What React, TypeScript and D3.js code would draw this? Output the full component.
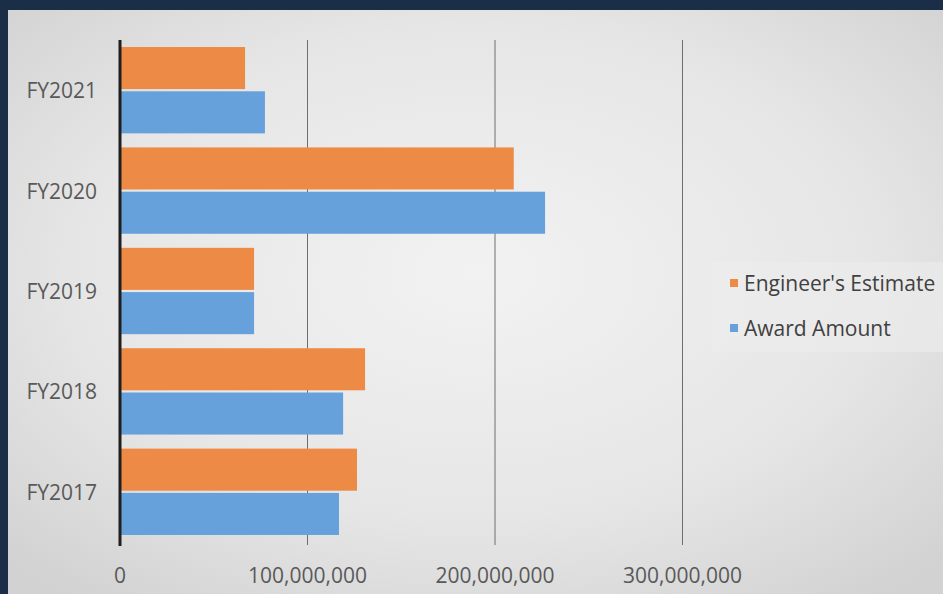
import React from "react";
import * as d3 from "d3";

const categories = ["FY2021", "FY2020", "FY2019", "FY2018", "FY2017"];
const seriesNames = ["Engineer's Estimate", "Award Amount"];
const engineersEstimate = [66700000, 210000000, 71500000, 130700000, 126400000];
const awardAmount = [77300000, 226700000, 71500000, 119000000, 116800000];
const xTicks = [0, 100000000, 200000000, 300000000];
const colors = ["#ed8a45", "#66a1dc"];

const W = 943;
const H = 594;

export default function App() {
  const x = d3.scaleLinear().domain([0, 100000000]).range([120, 307.5]);
  const y = d3.scaleBand<string>().domain(categories).range([40, 542]).paddingInner(0.14).paddingOuter(0.07);
  const inner = d3.scaleBand<string>().domain(seriesNames).range([0, y.bandwidth()]).paddingInner(0.05);
  const fmt = d3.format(",");
  const values = [engineersEstimate, awardAmount];
  const font = "'Open Sans', 'Noto Sans', sans-serif";

  return (
    <svg width={W} height={H} style={{ position: "absolute", left: 0, top: 0 }} fontFamily={font}>
      <defs>
        <radialGradient id="bg" cx="50%" cy="45%" r="70%">
          <stop offset="0%" stopColor="#f2f2f2" />
          <stop offset="60%" stopColor="#e6e6e6" />
          <stop offset="100%" stopColor="#d2d2d2" />
        </radialGradient>
      </defs>
      <rect x={0} y={0} width={W} height={H} fill="#1b2e48" />
      <rect x={8} y={10} width={W - 8} height={H - 10} fill="url(#bg)" />
      {xTicks.slice(1).map((t) => (
        <line key={t} x1={x(t)} x2={x(t)} y1={40} y2={545} stroke="#6e6e6e" strokeWidth={1} />
      ))}
      {categories.map((c, i) => (
        <g key={c}>
          {seriesNames.map((s, j) => (
            <rect
              key={s}
              x={x(0)}
              y={(y(c) as number) + (inner(s) as number)}
              width={x(values[j][i]) - x(0)}
              height={inner.bandwidth()}
              fill={colors[j]}
            />
          ))}
          <text
            x={97}
            y={(y(c) as number) + y.bandwidth() / 2}
            textAnchor="end"
            dominantBaseline="central"
            fontSize={21}
            fill="#595959"
          >
            {c}
          </text>
        </g>
      ))}
      <line x1={x(0)} x2={x(0)} y1={40} y2={546} stroke="#1f1f1f" strokeWidth={3} />
      {xTicks.map((t) => (
        <text key={t} x={x(t)} y={575} textAnchor="middle" dominantBaseline="central" fontSize={21} fill="#595959">
          {fmt(t)}
        </text>
      ))}
      <rect x={712} y={262} width={231} height={90} fill="#ececec" opacity={0.6} />
      {seriesNames.map((s, j) => (
        <g key={s} transform={`translate(730, ${283 + j * 45})`}>
          <rect x={0} y={-4} width={8} height={8} fill={colors[j]} />
          <text x={14} y={0} dominantBaseline="central" fontSize={21} fill="#404040">
            {s}
          </text>
        </g>
      ))}
    </svg>
  );
}
